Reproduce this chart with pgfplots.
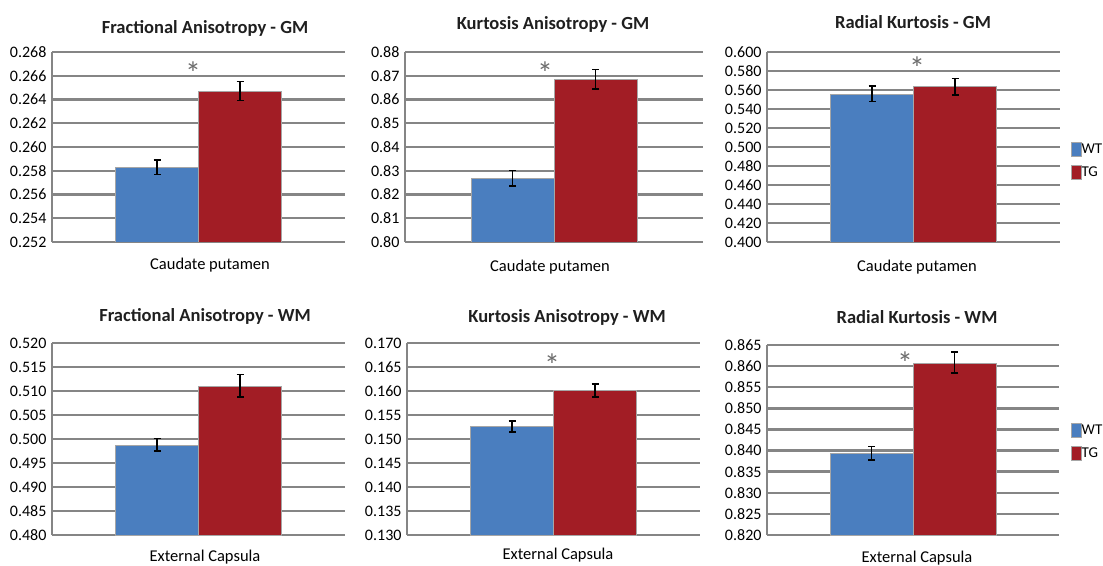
\documentclass[border=0pt]{standalone}
\usepackage{pgfplots}
\pgfplotsset{compat=1.18}
\usepackage{fontspec}
\setmainfont{Carlito}
\definecolor{wtblue}{HTML}{4A7EBF}
\definecolor{tgred}{HTML}{A21D25}
\definecolor{gridc}{HTML}{858585}
\definecolor{titc}{HTML}{1F1F1F}
\pgfplotsset{
  panel/.style={
    scale only axis, anchor=south west,
    xmin=-1, xmax=1, xtick=\empty,
    ybar=0pt, bar width=83pt,
    axis x line*=bottom, axis y line*=left,
    axis line style={-, gridc, line width=2.4pt},
    ymajorgrids, grid style={gridc, line width=2.4pt},
    major tick length=0pt,
    yticklabel style={font=\fontsize{16}{16}\selectfont, text=black,
      /pgf/number format/fixed, /pgf/number format/fixed zerofill,
      /pgf/number format/precision=3,
      /pgf/number format/assume math mode=true, xshift=-2pt},
    legend image code/.code={\fill[##1] (0pt,-7pt) rectangle (10pt,7pt);},
    legend style={draw=none, fill=none, inner sep=0pt, outer sep=0pt,
      font=\fontsize{15}{15}\selectfont, row sep=9pt,
      nodes={inner sep=0pt, anchor=west},
      /tikz/every even column/.append style={column sep=4pt}},
  },
  wt/.style={fill=wtblue, draw=gray!70, line width=0.4pt,
    error bars/.cd, y dir=both, y explicit,
    error bar style={black, line width=1.6pt},
    error mark options={rotate=90, mark size=3.5pt, line width=1.6pt, black}},
  tg/.style={fill=tgred, draw=gray!70, line width=0.4pt,
    error bars/.cd, y dir=both, y explicit,
    error bar style={black, line width=1.6pt},
    error mark options={rotate=90, mark size=3.5pt, line width=1.6pt, black}},
}
\tikzset{
  star/.style={text=gray!85!black, font=\fontsize{32}{32}\selectfont, inner sep=0pt, anchor=north, yshift=8pt},
  ttl/.style={text=titc, font=\bfseries\fontsize{18.5}{18.5}\selectfont, inner sep=0pt},
  xl/.style={text=black, font=\fontsize{16.5}{16.5}\selectfont, inner sep=0pt},
}
\begin{document}
\begin{tikzpicture}[x=1pt,y=1pt]
\useasboundingbox (0,0) rectangle (1103,565);
% Row 1
\begin{axis}[panel, at={(52pt,323pt)}, width=293pt, height=190pt,
  ymin=0.252, ymax=0.268, ytick={0.252,0.254,0.256,0.258,0.260,0.262,0.264,0.266,0.268}]
\addplot[wt] coordinates {(0,0.2583) +- (0,0.0006)};
\addplot[tg] coordinates {(0,0.2647) +- (0,0.0008)};
\node[star] at (axis cs:-0.0375,0.26655) {*};
\end{axis}
\begin{axis}[panel, at={(405pt,323pt)}, width=298pt, height=190pt,
  ymin=0.80, ymax=0.88, ytick={0.80,0.81,0.82,0.83,0.84,0.85,0.86,0.87,0.88},
  yticklabel style={/pgf/number format/precision=2}]
\addplot[wt] coordinates {(0,0.8269) +- (0,0.0032)};
\addplot[tg] coordinates {(0,0.8686) +- (0,0.0041)};
\node[star] at (axis cs:-0.06,0.8728) {*};
\end{axis}
\begin{axis}[panel, at={(767pt,323pt)}, width=293pt, height=190pt,
  ymin=0.4, ymax=0.6, ytick={0.40,0.42,0.44,0.46,0.48,0.50,0.52,0.54,0.56,0.58,0.60},
  legend style={at={(1.038,0.526)}, anchor=north west}]
\addplot[wt] coordinates {(0,0.5558) +- (0,0.0081)};
\addplot[tg] coordinates {(0,0.5635) +- (0,0.0086)};
\legend{WT,TG}
\node[star] at (axis cs:0.024,0.587) {*};
\end{axis}
% Row 2
\begin{axis}[panel, at={(52pt,30pt)}, width=293pt, height=192pt,
  ymin=0.48, ymax=0.52, ytick={0.480,0.485,0.490,0.495,0.500,0.505,0.510,0.515,0.520}]
\addplot[wt] coordinates {(0,0.4988) +- (0,0.0013)};
\addplot[tg] coordinates {(0,0.5111) +- (0,0.0023)};
\end{axis}
\begin{axis}[panel, at={(407pt,30pt)}, width=293pt, height=192pt,
  ymin=0.13, ymax=0.17, ytick={0.130,0.135,0.140,0.145,0.150,0.155,0.160,0.165,0.170}]
\addplot[wt] coordinates {(0,0.1526) +- (0,0.0012)};
\addplot[tg] coordinates {(0,0.1601) +- (0,0.0013)};
\node[star] at (axis cs:-0.01,0.1662) {*};
\end{axis}
\begin{axis}[panel, at={(767pt,30pt)}, width=292pt, height=190pt,
  ymin=0.82, ymax=0.865, ytick={0.820,0.825,0.830,0.835,0.840,0.845,0.850,0.855,0.860,0.865},
  legend style={at={(1.042,0.589)}, anchor=north west}]
\addplot[wt] coordinates {(0,0.8394) +- (0,0.0016)};
\addplot[tg] coordinates {(0,0.8608) +- (0,0.0025)};
\legend{WT,TG}
\node[star] at (axis cs:-0.055,0.8615) {*};
\end{axis}
% Titles
\node[ttl] at (205,537) {Fractional Anisotropy - GM};
\node[ttl] at (553,541) {Kurtosis Anisotropy - GM};
\node[ttl] at (913,543) {Radial Kurtosis - GM};
\node[ttl] at (205,249) {Fractional Anisotropy - WM};
\node[ttl] at (567,248) {Kurtosis Anisotropy - WM};
\node[ttl] at (917,248) {Radial Kurtosis - WM};
% x labels
\node[xl] at (210,300) {Caudate putamen};
\node[xl] at (550,298) {Caudate putamen};
\node[xl] at (917,298) {Caudate putamen};
\node[xl] at (205,8) {External Capsula};
\node[xl] at (558,10) {External Capsula};
\node[xl] at (917,7) {External Capsula};
\end{tikzpicture}
\end{document}
